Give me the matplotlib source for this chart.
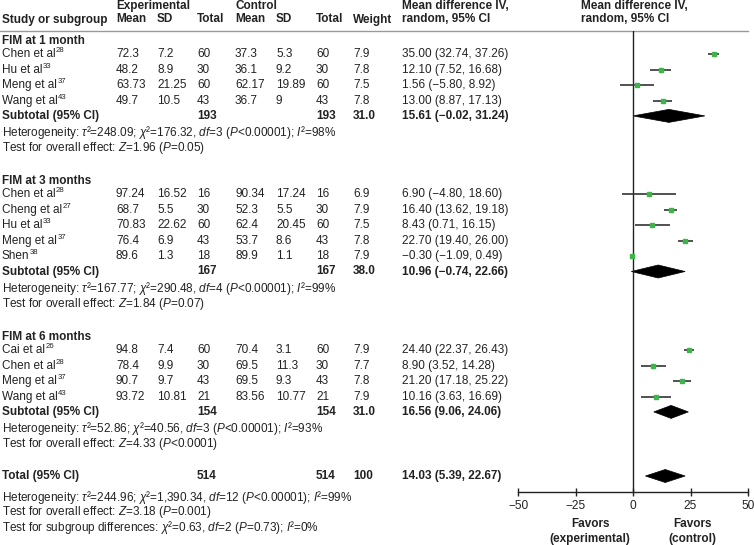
import matplotlib
matplotlib.use("Agg")
import matplotlib.pyplot as plt
from matplotlib.patches import Polygon

plt.rcParams['font.family'] = ['Liberation Sans', 'DejaVu Sans']
plt.rcParams['mathtext.fontset'] = 'custom'
plt.rcParams['mathtext.rm'] = 'Liberation Sans'
plt.rcParams['mathtext.it'] = 'Liberation Sans:italic'
plt.rcParams['mathtext.bf'] = 'Liberation Sans:bold'

# ---------------- data ----------------
sections = ["FIM at 1 month", "FIM at 3 months", "FIM at 6 months"]

studies_1 = [("Chen et al", "28"), ("Hu et al", "33"), ("Meng et al", "37"), ("Wang et al", "43")]
exp_mean_1 = ["72.3", "48.2", "63.73", "49.7"]
exp_sd_1 = ["7.2", "8.9", "21.25", "10.5"]
exp_n_1 = ["60", "30", "60", "43"]
ctl_mean_1 = ["37.3", "36.1", "62.17", "36.7"]
ctl_sd_1 = ["5.3", "9.2", "19.89", "9"]
ctl_n_1 = ["60", "30", "60", "43"]
weight_1 = ["7.9", "7.8", "7.5", "7.8"]
md_1 = [35.00, 12.10, 1.56, 13.00]
lo_1 = [32.74, 7.52, -5.80, 8.87]
hi_1 = [37.26, 16.68, 8.92, 17.13]
sub_1 = dict(n_e="193", n_c="193", w="31.0", md=15.61, lo=-0.02, hi=31.24)
het_1 = r"Heterogeneity: $\tau$²=248.09; $\chi$²=176.32, $df$=3 ($P$<0.00001); $I$²=98%"
test_1 = r"Test for overall effect: $Z$=1.96 ($P$=0.05)"

studies_2 = [("Chen et al", "28"), ("Cheng et al", "27"), ("Hu et al", "33"), ("Meng et al", "37"), ("Shen", "38")]
exp_mean_2 = ["97.24", "68.7", "70.83", "76.4", "89.6"]
exp_sd_2 = ["16.52", "5.5", "22.62", "6.9", "1.3"]
exp_n_2 = ["16", "30", "60", "43", "18"]
ctl_mean_2 = ["90.34", "52.3", "62.4", "53.7", "89.9"]
ctl_sd_2 = ["17.24", "5.5", "20.45", "8.6", "1.1"]
ctl_n_2 = ["16", "30", "60", "43", "18"]
weight_2 = ["6.9", "7.9", "7.5", "7.8", "7.9"]
md_2 = [6.90, 16.40, 8.43, 22.70, -0.30]
lo_2 = [-4.80, 13.62, 0.71, 19.40, -1.09]
hi_2 = [18.60, 19.18, 16.15, 26.00, 0.49]
sub_2 = dict(n_e="167", n_c="167", w="38.0", md=10.96, lo=-0.74, hi=22.66)
het_2 = r"Heterogeneity: $\tau$²=167.77; $\chi$²=290.48, $df$=4 ($P$<0.00001); $I$²=99%"
test_2 = r"Test for overall effect: $Z$=1.84 ($P$=0.07)"

studies_3 = [("Cai et al", "26"), ("Chen et al", "28"), ("Meng et al", "37"), ("Wang et al", "43")]
exp_mean_3 = ["94.8", "78.4", "90.7", "93.72"]
exp_sd_3 = ["7.4", "9.9", "9.7", "10.81"]
exp_n_3 = ["60", "30", "43", "21"]
ctl_mean_3 = ["70.4", "69.5", "69.5", "83.56"]
ctl_sd_3 = ["3.1", "11.3", "9.3", "10.77"]
ctl_n_3 = ["60", "30", "43", "21"]
weight_3 = ["7.9", "7.7", "7.8", "7.9"]
md_3 = [24.40, 8.90, 21.20, 10.16]
lo_3 = [22.37, 3.52, 17.18, 3.63]
hi_3 = [26.43, 14.28, 25.22, 16.69]
sub_3 = dict(n_e="154", n_c="154", w="31.0", md=16.56, lo=9.06, hi=24.06)
het_3 = r"Heterogeneity: $\tau$²=52.86; $\chi$²=40.56, $df$=3 ($P$<0.00001); $I$²=93%"
test_3 = r"Test for overall effect: $Z$=4.33 ($P$<0.0001)"

total = dict(n_e="514", n_c="514", w="100", md=14.03, lo=5.39, hi=22.67)
total_lines = [
    r"Heterogeneity: $\tau$²=244.96; $\chi$²=1,390.34, $df$=12 ($P$<0.00001); $I$²=99%",
    r"Test for overall effect: $Z$=3.18 ($P$=0.001)",
    r"Test for subgroup differences: $\chi$²=0.63, $df$=2 ($P$=0.73); $I$²=0%",
]
x_ticks = [-50, -25, 0, 25, 50]

groups = [
    (studies_1, exp_mean_1, exp_sd_1, exp_n_1, ctl_mean_1, ctl_sd_1, ctl_n_1, weight_1, md_1, lo_1, hi_1, sub_1, het_1, test_1),
    (studies_2, exp_mean_2, exp_sd_2, exp_n_2, ctl_mean_2, ctl_sd_2, ctl_n_2, weight_2, md_2, lo_2, hi_2, sub_2, het_2, test_2),
    (studies_3, exp_mean_3, exp_sd_3, exp_n_3, ctl_mean_3, ctl_sd_3, ctl_n_3, weight_3, md_3, lo_3, hi_3, sub_3, het_3, test_3),
]

# ---------------- layout ----------------
W, H = 754, 545
fig = plt.figure(figsize=(W / 100, H / 100), dpi=100)
ax = fig.add_axes([0, 0, 1, 1])
ax.set_xlim(0, W)
ax.set_ylim(H, 0)
ax.axis('off')

y_top, y_axis = 31, 492
x_left, x_right = 518, 748
axf = fig.add_axes([x_left / W, (H - y_axis) / H, (x_right - x_left) / W, (y_axis - y_top) / H])
axf.set_xlim(-50, 50)
axf.set_ylim(y_axis, y_top)
axf.patch.set_alpha(0)
for s in ['top', 'left', 'right']:
    axf.spines[s].set_visible(False)
axf.spines['bottom'].set_linewidth(1.0)
axf.spines['bottom'].set_color('#222222')
axf.set_yticks([])
axf.set_xticks(x_ticks)
axf.set_xticklabels([f"\u2212{abs(t)}" if t < 0 else str(t) for t in x_ticks])
axf.tick_params(axis='x', direction='inout', length=6, width=1.0, labelsize=8.6, pad=3, colors='#222222')
axf.axvline(0, color='#222222', lw=1.0)

FS = 8.5
col_name, col_em, col_esd, col_en = 2, 116, 157, 197
col_cm, col_csd, col_cn, col_w, col_md = 235, 276, 316, 353, 402
TXT = '#222222'

def t(x, y, s, bold=False, **kw):
    return ax.text(x, y, s, fontsize=FS, fontweight='bold' if bold else 'normal',
                   va='center', ha=kw.pop('ha', 'left'), color=TXT, **kw)

def name_with_sup(x, y, name, sup):
    art = t(x, y, name)
    ax.annotate(sup, xy=(1, 0.5), xycoords=art, fontsize=5.6, color=TXT,
                ha='left', va='bottom', xytext=(0.3, 0), textcoords='offset points')

# header
t(col_em, 6, "Experimental", bold=True)
t(col_cm, 6, "Control", bold=True)
t(col_md, 6, "Mean difference IV,", bold=True)
t(581, 6, "Mean difference IV,", bold=True)
for x, s in [(col_name, "Study or subgroup"), (col_em, "Mean"), (col_esd, "SD"), (col_en, "Total"),
             (col_cm, "Mean"), (col_csd, "SD"), (col_cn, "Total"), (col_w, "Weight"),
             (col_md, "random, 95% CI"), (581, "random, 95% CI")]:
    t(x, 19.5, s, bold=True)
ax.plot([0, x_right], [y_top, y_top], color='#999999', lw=1.0)

STEP = 15.6
DIA_H = 6.5

def fmt(v):
    return f"\u2212{abs(v):.2f}" if v < 0 else f"{v:.2f}"

def diamond(md, lo, hi, y):
    axf.add_patch(Polygon([[lo, y], [md, y - DIA_H], [hi, y], [md, y + DIA_H]],
                          closed=True, facecolor='black', edgecolor='black', lw=0.5))

section_starts = [41, 181, 337]
for sec, y0, g in zip(sections, section_starts, groups):
    (names, em, esd, en, cm, csd, cn, w, md, lo, hi, sub, het, test) = g
    t(col_name, y0, sec, bold=True)
    y = y0 + 13
    for i in range(len(names)):
        name_with_sup(col_name, y, names[i][0], names[i][1])
        t(col_em, y, em[i]); t(col_esd, y, esd[i]); t(col_en, y, en[i])
        t(col_cm, y, cm[i]); t(col_csd, y, csd[i]); t(col_cn, y, cn[i])
        t(col_w, y, w[i])
        t(col_md, y, f"{fmt(md[i])} ({fmt(lo[i])}, {fmt(hi[i])})")
        axf.plot([lo[i], hi[i]], [y, y], color='#333333', lw=1.2, solid_capstyle='butt')
        axf.plot([md[i]], [y], marker='s', ms=3.0, color='#3db54a', mec='#3db54a')
        y += STEP
    y -= 0.5
    t(col_name, y, "Subtotal (95% CI)", bold=True)
    t(col_en, y, sub['n_e'], bold=True)
    t(col_cn, y, sub['n_c'], bold=True)
    t(col_w, y, sub['w'], bold=True)
    t(col_md, y, f"{fmt(sub['md'])} ({fmt(sub['lo'])}, {fmt(sub['hi'])})", bold=True)
    diamond(sub['md'], sub['lo'], sub['hi'], y)
    t(col_name, y + 17, het)
    t(col_name, y + 32, test)

yt = 476
t(col_name, yt, "Total (95% CI)", bold=True)
t(col_en, yt, total['n_e'], bold=True)
t(col_cn, yt, total['n_c'], bold=True)
t(col_w, yt, total['w'], bold=True)
t(col_md, yt, f"{fmt(total['md'])} ({fmt(total['lo'])}, {fmt(total['hi'])})", bold=True)
diamond(total['md'], total['lo'], total['hi'], yt)
for k, s in enumerate(total_lines):
    t(col_name, 497 + k * 15.5, s)

ax.text(590, 524, "Favors", fontsize=FS, fontweight='bold', ha='center', va='center', color=TXT)
ax.text(590, 539, "(experimental)", fontsize=FS, fontweight='bold', ha='center', va='center', color=TXT)
ax.text(692, 524, "Favors", fontsize=FS, fontweight='bold', ha='center', va='center', color=TXT)
ax.text(692, 539, "(control)", fontsize=FS, fontweight='bold', ha='center', va='center', color=TXT)

fig.savefig("out.png", dpi=100)
